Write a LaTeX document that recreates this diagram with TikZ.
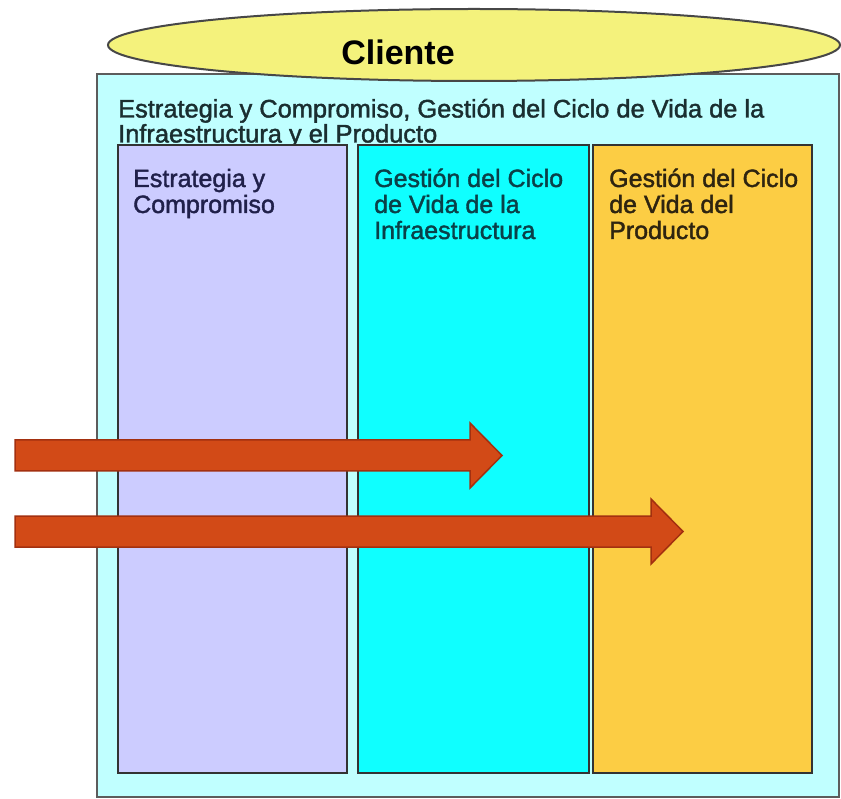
\documentclass[tikz,border=0pt]{standalone}
\usepackage{fontspec}
\setmainfont{Liberation Sans}
\newfontfamily\heavy{Liberation Sans}[FakeBold=1.6]
\usetikzlibrary{shapes.geometric}
\definecolor{outerfill}{HTML}{C0FFFF}
\definecolor{lavender}{HTML}{CCCCFF}
\definecolor{cyanfill}{HTML}{0FFFFF}
\definecolor{orangefill}{HTML}{FCCD44}
\definecolor{ellfill}{HTML}{F4F27C}
\definecolor{arrowfill}{HTML}{D24A17}
\definecolor{arrowline}{HTML}{A33010}
\definecolor{boxline}{HTML}{333333}
\definecolor{txtT}{HTML}{1A2E30}
\definecolor{txtA}{HTML}{20204A}
\definecolor{txtB}{HTML}{0A4048}
\definecolor{txtC}{HTML}{2E2410}
\tikzset{
  colbox/.style={draw=boxline, line width=1.6pt},
  coltext/.style={anchor=base west, inner sep=0pt, align=left, font=\heavy\fontsize{25}{26}\selectfont},
  bigarrow/.style={fill=arrowfill, draw=arrowline, line width=1.5pt, line join=miter}
}
\begin{document}
\begin{tikzpicture}[x=1pt,y=-1pt]
\useasboundingbox (0,0) rectangle (841,799);
% outer box
\draw[fill=outerfill, draw=boxline!80, line width=1.6pt] (97,74) rectangle (839,797);
% ellipse
\node[ellipse, draw=boxline!90, line width=2pt, fill=ellfill, minimum width=732pt, minimum height=72pt, inner sep=0pt] (cliente) at (474,45) {};
\node[font=\fontsize{34}{34}\selectfont\bfseries, text=black, inner sep=0pt] (clientetxt) at (398,52) {Cliente};
% title (base anchor = baseline of last line)
\node[anchor=base west, inner sep=0pt, align=left, font=\heavy\fontsize{25.4}{25}\selectfont, text=txtT] (title) at (118,142.5) {Estrategia y Compromiso, Gestión del Ciclo de Vida de la\\Infraestructura y el Producto};
% columns
\draw[colbox, fill=lavender] (118,145) rectangle (347,773);
\draw[colbox, fill=cyanfill] (358,145) rectangle (589,773);
\draw[colbox, fill=orangefill] (593,145) rectangle (812,773);
\node[coltext, text=txtA] (c1) at (133,213) {Estrategia y\\Compromiso};
\node[coltext, text=txtB] (c2) at (374,239) {Gestión del Ciclo\\de Vida de la\\Infraestructura};
\node[coltext, text=txtC] (c3) at (609,239) {Gestión del Ciclo\\de Vida del\\Producto};
% arrows
\draw[bigarrow] (15,440) -- (470,440) -- (470,423) -- (502,455.5) -- (470,488) -- (470,471) -- (15,471) -- cycle;
\draw[bigarrow] (15,516) -- (651,516) -- (651,499) -- (683,531.5) -- (651,564) -- (651,547) -- (15,547) -- cycle;
\end{tikzpicture}
\end{document}
